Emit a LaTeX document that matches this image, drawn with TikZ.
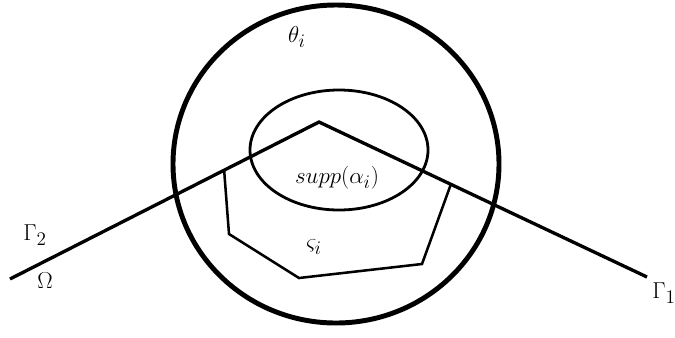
\documentclass[tikz,border=0pt]{standalone}
\usetikzlibrary{calc}
\begin{document}
\begin{tikzpicture}[x=0.75pt,y=-0.75pt,
    lbl/.style={font=\fontsize{19}{23}\selectfont},
    ring/.style={line width=3.7pt},
    inner/.style={line width=2.1pt},
    path/.style={line width=2.5pt},
    chain/.style={line width=1.9pt, line join=miter}]
  \useasboundingbox (0,0) rectangle (675,337);
  % theta_i and supp(alpha_i)
  \draw[ring] (336,164) ellipse (163 and 159);
  \draw[inner] (339,150) ellipse (89 and 60);
  % the broken line Gamma_2 -- Gamma_1
  \coordinate (west) at (10,279);
  \coordinate (apex) at (319,122);
  \coordinate (east) at (647,277);
  \draw[path] (west) -- (apex) -- (east);
  % varsigma_i
  \coordinate (s1) at ($(west)!0.693!(apex)$);
  \coordinate (s5) at ($(apex)!0.402!(east)$);
  \draw[chain] (s1) -- (229,234) -- (299,278) -- (422,264) -- (s5);
  \node[lbl] (theta) at (297,37) {$\theta_i$};
  \node[lbl] (supp) at (337,178) {$supp(\alpha_i)$};
  \node[lbl] (vsig) at (314,247) {$\varsigma_i$};
  \node[lbl] (gtwo) at (35,235) {$\Gamma_2$};
  \node[lbl] (omega) at (45,281) {$\Omega$};
  \node[lbl] (gone) at (664,293) {$\Gamma_1$};
\end{tikzpicture}
\end{document}
